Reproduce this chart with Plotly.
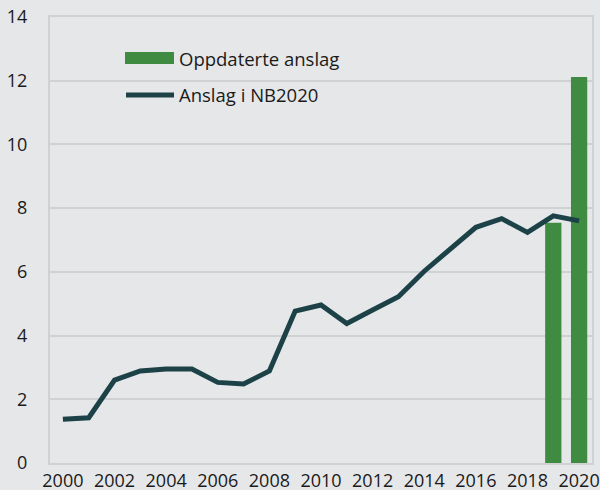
import plotly.graph_objects as go

years = list(range(2000, 2021))
nb2020 = [1.37, 1.42, 2.60, 2.89, 2.95, 2.95, 2.53, 2.48, 2.89, 4.77, 4.96,
          4.38, 4.80, 5.22, 6.02, 6.72, 7.40, 7.67, 7.24, 7.76, 7.60]
bar_years = [2019, 2020]
oppdaterte = [7.54, 12.12]
tick_years = list(range(2000, 2021, 2))
y_ticks = list(range(0, 15, 2))

bg = "#e6e7e9"
grid = "#d0d1d3"
green = "#3e8b41"
dark = "#1c4248"
font = "Open Sans"

fig = go.Figure()
fig.add_trace(go.Bar(x=bar_years, y=oppdaterte, name="Oppdaterte anslag",
                     marker=dict(color=green, line=dict(width=0)), width=0.63,
                     showlegend=False))
fig.add_trace(go.Scatter(x=years, y=nb2020, name="Anslag i NB2020", mode="lines",
                         line=dict(color=dark, width=5), showlegend=False))

# manual legend
fig.add_shape(type="rect", xref="paper", yref="paper",
              x0=(125 - 50) / 542, x1=(174 - 50) / 542,
              y0=(463 - 64) / 446, y1=(463 - 52) / 446,
              fillcolor=green, line=dict(width=0))
fig.add_shape(type="line", xref="paper", yref="paper",
              x0=(126 - 50) / 542, x1=(174 - 50) / 542,
              y0=(463 - 95) / 446, y1=(463 - 95) / 446,
              line=dict(color=dark, width=5))
fig.add_annotation(xref="paper", yref="paper", x=(177 - 50) / 542, y=(463 - 58) / 446,
                   text="Oppdaterte anslag", showarrow=False, xanchor="left", yanchor="middle",
                   font=dict(family=font, size=18.5, color="#1a1a1a"))
fig.add_annotation(xref="paper", yref="paper", x=(177 - 50) / 542, y=(463 - 95) / 446,
                   text="Anslag i NB2020", showarrow=False, xanchor="left", yanchor="middle",
                   font=dict(family=font, size=18.5, color="#1a1a1a"))

fig.update_layout(
    width=600, height=490,
    margin=dict(l=50, r=8, t=17, b=27),
    paper_bgcolor=bg, plot_bgcolor=bg,
    font=dict(family=font, size=18, color="#1a1a1a"),
    bargap=0.38,
)
fig.update_xaxes(range=[1999.5, 2020.5], tickvals=tick_years, ticktext=[str(t) for t in tick_years],
                 showgrid=False, showline=True, linecolor=grid, linewidth=2, mirror=True,
                 ticks="", zeroline=False, tickangle=0, automargin=False,
                 ticklabeloverflow="allow")
fig.update_yaxes(range=[0, 14], tickvals=y_ticks, showgrid=True, gridcolor=grid, gridwidth=2,
                 showline=True, linecolor=grid, linewidth=2, mirror=True, automargin=False,
                 zeroline=False, ticks="outside", ticklen=17, tickcolor="rgba(0,0,0,0)")
fig.write_html("out.html", config={"displayModeBar": False},
               post_script="document.body.style.margin='0';document.body.style.background='#e6e7e9';")
